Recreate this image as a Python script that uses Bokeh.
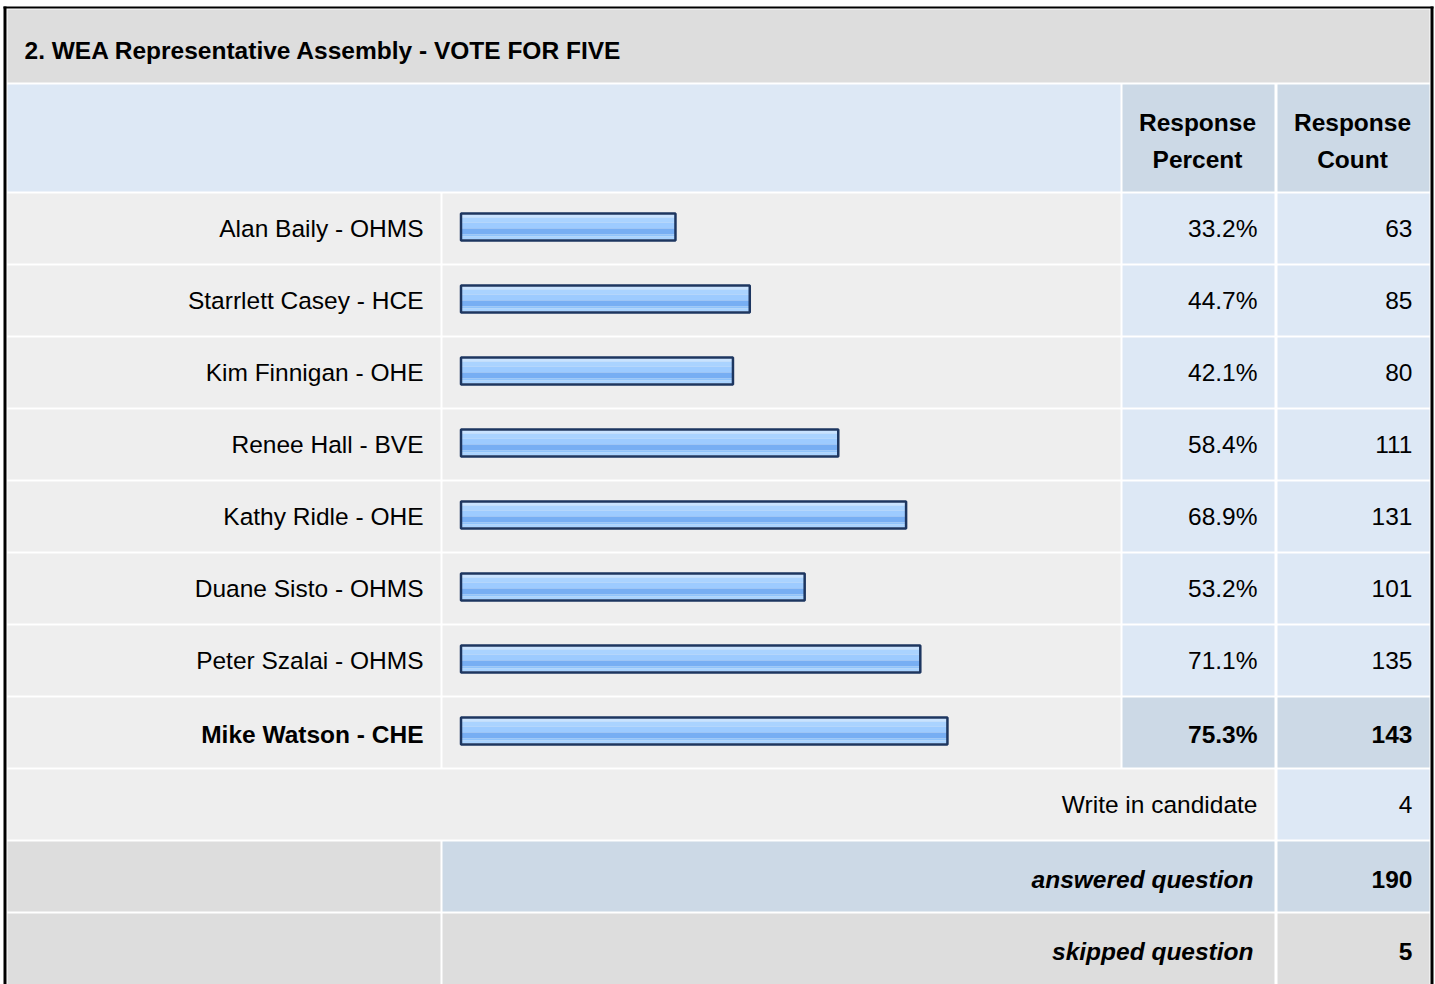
from bokeh.plotting import figure
from bokeh.models import Range1d, ColumnDataSource
from bokeh.core.properties import value
from bokeh.embed import file_html
from bokeh.resources import INLINE

# ---------------- data ----------------
title = "2. WEA Representative Assembly - VOTE FOR FIVE"
candidates = ["Alan Baily - OHMS", "Starrlett Casey - HCE", "Kim Finnigan - OHE",
              "Renee Hall - BVE", "Kathy Ridle - OHE", "Duane Sisto - OHMS",
              "Peter Szalai - OHMS", "Mike Watson - CHE"]
percents = [33.2, 44.7, 42.1, 58.4, 68.9, 53.2, 71.1, 75.3]
counts = [63, 85, 80, 111, 131, 101, 135, 143]
write_in_label = "Write in candidate"
write_in_count = 4
answered_label = "answered question"
answered = 190
skipped_label = "skipped question"
skipped = 5
header_percent = ["Response", "Percent"]
header_count = ["Response", "Count"]

# ---------------- layout ----------------
W, H = 1435, 984
X0, X1 = 0, 1435
Y0, Y1 = 0, 984
FONT = value("Liberation Sans")
FS = "24.5px"

ROW0, ROWSTEP, ROWH = 193, 72, 70
def rtop(i):
    return ROW0 + ROWSTEP * i
def rc(i):
    return rtop(i) + ROWH / 2

ZERO_PX, PX_PER_PCT = 460.5, 6.46

p = figure(width=W, height=H, x_range=Range1d(X0, X1), y_range=Range1d(Y1, Y0),
           output_backend="svg", toolbar_location=None, min_border=0,
           x_axis_location=None, y_axis_location=None,
           background_fill_color="white", border_fill_color="white")
p.outline_line_color = None
p.grid.visible = False
p.extra_x_ranges = {"pct": Range1d((X0 - ZERO_PX) / PX_PER_PCT, (X1 - ZERO_PX) / PX_PER_PCT)}

hl = percents.index(max(percents))

# cell backgrounds
L, R, T, B, C = [], [], [], [], []
def cell(l, r, t, b, c):
    L.append(l); R.append(r); T.append(t); B.append(b); C.append(c)

LBL = (7, 440); BAR = (442, 1120); PCT = (1122, 1274); CNT = (1277, 1429)
cell(7, 1429, 9, 82, "#dddddd")
cell(7, 1120, 84, 191, "#dde8f5")
cell(*PCT, 84, 191, "#ccd9e6")
cell(*CNT, 84, 191, "#ccd9e6")
for i in range(len(candidates)):
    t, b = rtop(i), rtop(i) + ROWH
    cell(*LBL, t, b, "#eeeeee")
    cell(*BAR, t, b, "#eeeeee")
    vc = "#ccd9e6" if i == hl else "#dde8f5"
    cell(*PCT, t, b, vc)
    cell(*CNT, t, b, vc)
n = len(candidates)
t, b = rtop(n), rtop(n) + ROWH
cell(7, 1274, t, b, "#eeeeee"); cell(*CNT, t, b, "#dde8f5")
t, b = rtop(n + 1), rtop(n + 1) + ROWH
cell(*LBL, t, b, "#dddddd"); cell(442, 1274, t, b, "#ccd9e6"); cell(*CNT, t, b, "#ccd9e6")
t, b = rtop(n + 2), 990
cell(*LBL, t, b, "#dddddd"); cell(442, 1274, t, b, "#dddddd"); cell(*CNT, t, b, "#dddddd")
# outer black border
cell(3, 6, 6, 990, "#000000")
cell(3, 1433, 6, 8, "#000000")
cell(1430, 1433, 6, 990, "#000000")
p.quad(left=L, right=R, top=T, bottom=B, fill_color=C, line_color=None)

# bars: gradient stripes + outline
centers = [rc(i) for i in range(n)]
stripes = [(-14, -11, "#c9e3ff"), (-11, -6, "#aad3ff"), (-6, 0, "#9dcbff"),
           (0, 6, "#77aef3"), (6, 8, "#8fc3fb"), (8, 11, "#a9d3ff")]
for a, bb, col in stripes:
    src = ColumnDataSource(dict(y=[c + (a + bb) / 2 for c in centers], right=percents))
    p.hbar(y="y", left=0, right="right", height=bb - a, source=src,
           x_range_name="pct", fill_color=col, line_color=None)
osrc = ColumnDataSource(dict(y=[c - 1.5 for c in centers], right=percents))
p.hbar(y="y", left=0, right="right", height=27, source=osrc, x_range_name="pct",
       fill_alpha=0, line_color="#1d3660", line_width=2.5)

def txt(x, y, s, align="right", style="normal"):
    p.text(x=x, y=y, text=s, text_align=align, text_baseline="middle",
           text_font=FONT, text_font_size=FS, text_font_style=style, text_color="#000000")

txt([24], [50], [title], align="left", style="bold")
txt([1197, 1197], [122, 159], header_percent, align="center", style="bold")
txt([1352, 1352], [122, 159], header_count, align="center", style="bold")

for i in range(n):
    bold = (i == hl)
    y = rc(i) + (2 if bold else 0)
    st = "bold" if bold else "normal"
    txt([423], [y], [candidates[i]], style=st)
    txt([1257], [y], [f"{percents[i]:.1f}%"], style=st)
    txt([1412], [y], [str(counts[i])], style=st)

txt([1257], [rc(n)], [write_in_label])
txt([1412], [rc(n)], [str(write_in_count)])
txt([1253], [rc(n + 1) + 3], [answered_label], style="bold italic")
txt([1412], [rc(n + 1) + 3], [str(answered)], style="bold")
txt([1253], [rc(n + 2) + 3], [skipped_label], style="bold italic")
txt([1412], [rc(n + 2) + 3], [str(skipped)], style="bold")

open("out.html", "w").write(file_html(p, INLINE))
